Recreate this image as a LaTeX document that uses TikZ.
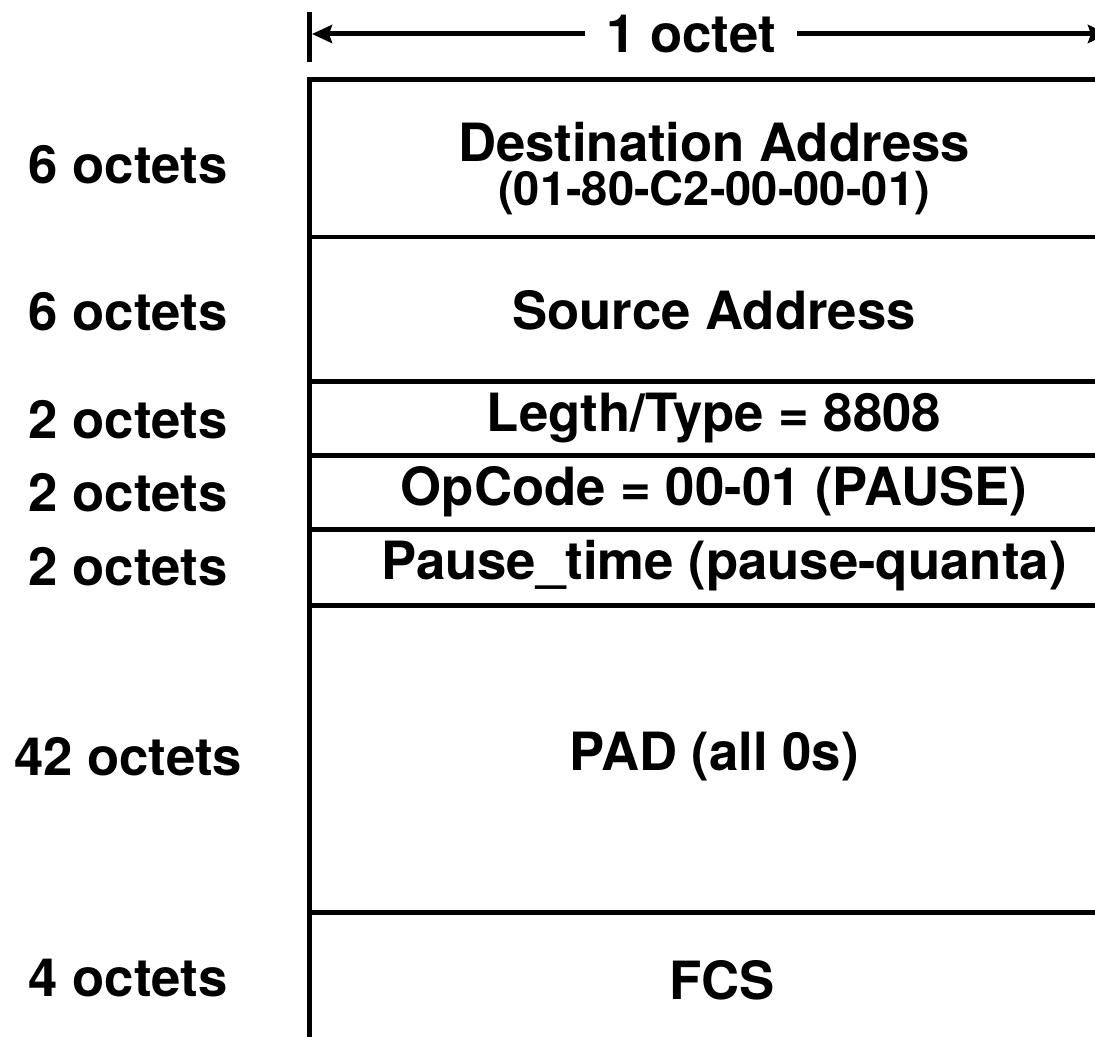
\documentclass[tikz,border=0pt]{standalone}
\usepackage{fontspec}
\setmainfont{TeX Gyre Heros}
\usetikzlibrary{arrows.meta}

\begin{document}
\begin{tikzpicture}[x=0.02cm, y=-0.02cm, >={Stealth[length=0.4cm, width=0.36cm, inset=0.06cm]},
  rule/.style={line width=0.1cm},
  field/.style={font=\fontsize{30}{36}\selectfont\bfseries, inner sep=0pt},
  small/.style={font=\fontsize{26.8}{32}\selectfont\bfseries, inner sep=0pt},
  size/.style={font=\fontsize{30}{36}\selectfont\bfseries, inner sep=0pt}]
  \useasboundingbox (0,0) rectangle (1095,1037);
  % width arrow
  \coordinate (wl) at (312,34);
  \coordinate (wr) at (1108,34);
  \draw[rule] (309.5,12) -- (309.5,62);
  \draw[rule, <->] (wl) -- (wr)
    node[pos=0.476, fill=white, inner xsep=0.42cm, inner ysep=0pt, font=\fontsize{30}{36}\selectfont\bfseries] (one) {1 octet};
  % frame
  \draw[rule] (309.5,1037) -- (309.5,80) -- (1120,80);
  \foreach \y in {237,381,455,529,605,912}
    \draw[rule] (309.5,\y) -- (1120,\y);
  % fields
  \node[field] (dst) at (714,142) {Destination Address};
  \node[small] (mac) at (714,193) {(01-80-C2-00-00-01)};
  \node[field] (src) at (714,310) {Source Address};
  \node[field] (typ) at (714,418) {Legth/Type = 8808};
  \node[field] (opc) at (714,492) {OpCode = 00-01 (PAUSE)};
  \node[field] (pt) at (724,566) {Pause\_time (pause-quanta)};
  \node[field] (pad) at (714,757) {PAD (all 0s)};
  \node[field] (fcs) at (722,980) {FCS};
  % sizes
  \node[size] (s1) at (128,165) {6 octets};
  \node[size] (s2) at (128,312) {6 octets};
  \node[size] (s3) at (128,420) {2 octets};
  \node[size] (s4) at (128,493) {2 octets};
  \node[size] (s5) at (128,567) {2 octets};
  \node[size] (s6) at (128,757) {42 octets};
  \node[size] (s7) at (128,978) {4 octets};
\end{tikzpicture}
\end{document}
